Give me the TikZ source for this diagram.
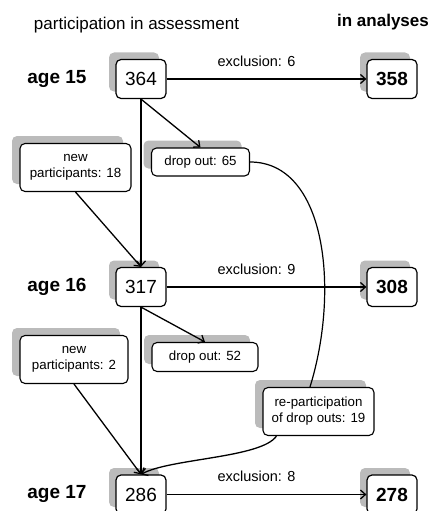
\documentclass[tikz,border=0pt]{standalone}
\usepackage{fontspec}
\setmainfont{Liberation Sans}
\usetikzlibrary{arrows.meta,shadows}
\definecolor{shadowgray}{RGB}{187,187,187}
\begin{document}
\begin{tikzpicture}[x=1pt, y=-1pt,
  numbox/.style={rectangle, draw, rounded corners=5pt, line width=1.2pt, fill=white, minimum width=50pt, minimum height=39pt, inner sep=0pt, font=\fontsize{19}{22}\selectfont, drop shadow={shadow xshift=-7pt, shadow yshift=7pt, fill=shadowgray, opacity=1}},
  finalbox/.style={numbox, font=\bfseries\fontsize{19}{22}\selectfont},
  infobox/.style={rectangle, draw, rounded corners=5pt, line width=1.1pt, fill=white, inner sep=0pt, align=center, font=\fontsize{13.3}{16}\selectfont, drop shadow={shadow xshift=-8pt, shadow yshift=7.5pt, fill=shadowgray, opacity=1}},
  agelabel/.style={font=\bfseries\fontsize{19}{22}\selectfont},
  headlabel/.style={font=\fontsize{17}{20}\selectfont, anchor=base},
  exlabel/.style={font=\fontsize{14.5}{17}\selectfont, inner sep=0pt, pos=0.45, above=12pt},
  arrow/.style={-{Straight Barb[length=5pt,width=9pt]}, line width=1.3pt}
]
\useasboundingbox (0,0) rectangle (430,511);

\node[headlabel] (hpart) at (136.5,30) {participation in assessment};
\node[headlabel, font=\bfseries\fontsize{17}{20}\selectfont] (hana) at (383,27) {in analyses};

\node[agelabel] (a15) at (57,79) {age 15};
\node[agelabel] (a16) at (57,287) {age 16};
\node[agelabel] (a17) at (57,494) {age 17};

\node[numbox] (n364) at (141,79) {364};
\node[finalbox] (n358) at (392,79) {358};
\node[infobox, minimum width=98pt, minimum height=28pt] (drop65) at (200.5,162) {drop out: 65};
\node[infobox, minimum width=111pt, minimum height=48pt] (new18) at (75.5,167.5) {new\\participants: 18};

\node[numbox] (n317) at (141,287) {317};
\node[finalbox] (n308) at (392,287) {308};
\node[infobox, minimum width=106pt, minimum height=29pt] (drop52) at (205,357) {drop out: 52};
\node[infobox, minimum width=108pt, minimum height=48pt] (new2) at (74,359.5) {new\\participants: 2};
\node[infobox, minimum width=111pt, minimum height=48pt] (rep) at (318.5,411.5) {re-participation\\of drop outs: 19};

\node[numbox] (n286) at (141,494.5) {286};
\node[finalbox] (n278) at (392,494.5) {278};

\draw[arrow] (n364) -- node[exlabel] (ex6) {exclusion: 6} (n358);
\draw[arrow] (n317) -- node[exlabel] (ex9) {exclusion: 9} (n308);
\draw[arrow] (n286) -- node[exlabel] (ex8) {exclusion: 8} (n278);

\draw[arrow] (n364) -- (n317);
\draw[arrow] (n364.south) -- (drop65.north);
\draw[arrow] (new18.south) -- (n317.north);
\draw[arrow] (n317) -- (n286);
\draw[arrow] (n317.south) -- (drop52.north);
\draw[arrow] (new2.south) -- (n286.north);
\draw[line width=1.2pt] (drop65.east) .. controls +(76,0) and +(30,-97) .. ([xshift=-8.5pt]rep.north);
\draw[arrow] ([xshift=14pt]rep.south west) .. controls +(-15,22) and +(29,-16) .. (n286.north);
\end{tikzpicture}
\end{document}
